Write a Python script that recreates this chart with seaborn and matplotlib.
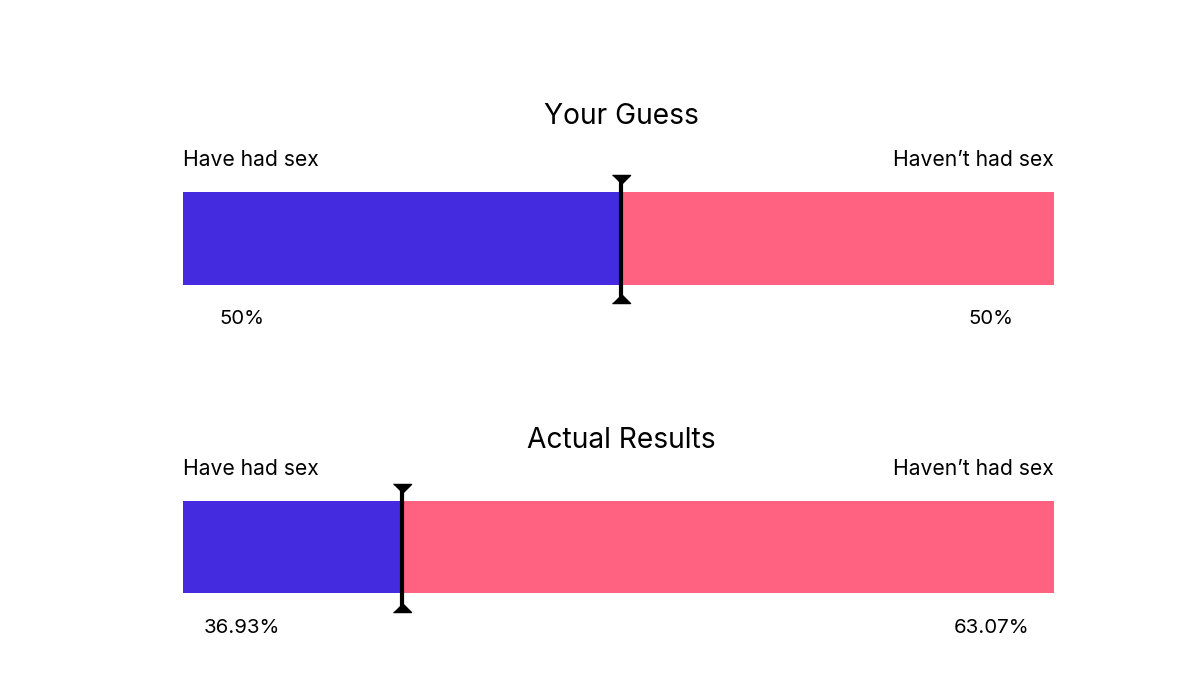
import matplotlib
matplotlib.use("Agg")
import matplotlib.pyplot as plt
import matplotlib.transforms as mtransforms
import pandas as pd
import seaborn as sns

# --- Data ---
panel_titles = ["Your Guess", "Actual Results"]
left_label = "Have had sex"
right_label = "Haven\u2019t had sex"
have_pct = [50.0, 36.93]
havent_pct = [50.0, 63.07]
# split position as drawn in the picture (the actual bar is drawn at ~25%)
split_drawn = [50.3, 25.1]

BLUE = "#452BDF"
PINK = "#FF6281"

sns.set_theme(style="white")
plt.rcParams["font.family"] = ["Inter", "DejaVu Sans"]

W, H = 1188, 674
fig = plt.figure(figsize=(W / 100, H / 100), dpi=100)

# pixel layout: (bar top, bar bottom, title y, side label y, pct y, marker top, marker bottom)
layout = [
    (192, 285, 116, 160, 319, 180, 298),
    (501, 593, 440, 469, 628, 489, 607),
]
x0, x1 = 183, 1054

for i, (top, bot, ty, ly, py, mt, mb) in enumerate(layout):
    ax = fig.add_axes([x0 / W, 1 - bot / H, (x1 - x0) / W, (bot - top) / H])
    h = bot - top
    df = pd.DataFrame({"panel": [panel_titles[i]], "total": [100.0], "have": [split_drawn[i]]})
    sns.barplot(data=df, x="total", y="panel", color=PINK, width=1, ax=ax,
                saturation=1, edgecolor="none")
    sns.barplot(data=df, x="have", y="panel", color=BLUE, width=1, ax=ax,
                saturation=1, edgecolor="none")
    ax.set_xlim(0, 100)
    ax.set_ylim(0.5, -0.5)
    ax.axis("off")

    fy = lambda y: 1 + (top - y) / h  # pixel y -> axes fraction

    ax.text(0.503, fy(ty), panel_titles[i], transform=ax.transAxes,
            ha="center", va="center", fontsize=20.3, color="black")
    ax.text(0.0, fy(ly), left_label, transform=ax.transAxes,
            ha="left", va="center", fontsize=15.2, color="black")
    ax.text(1.0, fy(ly), right_label, transform=ax.transAxes,
            ha="right", va="center", fontsize=15.2, color="black")
    ax.text(0.068, fy(py), f"{have_pct[i]:g}%", transform=ax.transAxes,
            ha="center", va="center", fontsize=14.7, color="black")
    ax.text(0.928, fy(py), f"{havent_pct[i]:g}%", transform=ax.transAxes,
            ha="center", va="center", fontsize=14.7, color="black")

    # split marker
    trans = mtransforms.blended_transform_factory(ax.transData, ax.transAxes)
    s = split_drawn[i]
    ax.plot([s, s], [fy(mt), fy(mb)], transform=trans, color="black",
            lw=3, clip_on=False, solid_capstyle="butt")
    ax.plot([s], [fy(mt + 4)], transform=trans, marker=[(-1, 1), (1, 1), (0, 0)],
            markersize=13, color="black", clip_on=False, linestyle="none")
    ax.plot([s], [fy(mb - 4)], transform=trans, marker=[(-1, -1), (1, -1), (0, 0)],
            markersize=13, color="black", clip_on=False, linestyle="none")

fig.savefig("out.png", dpi=100, facecolor="white")
